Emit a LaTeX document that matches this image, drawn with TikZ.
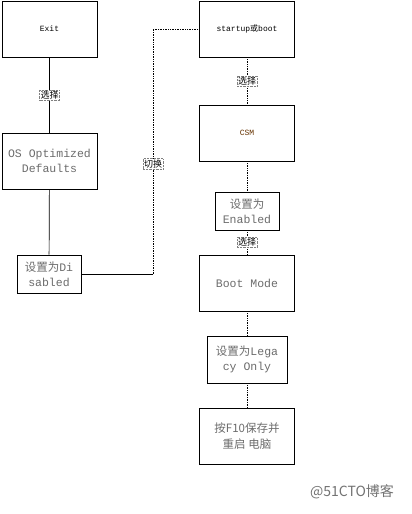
\documentclass[tikz,border=0pt]{standalone}
\usepackage{fontspec}
\setmainfont{Liberation Mono}
\newfontfamily\cjk{Noto Sans CJK SC}
\begin{document}
\begin{tikzpicture}[x=1pt,y=-1pt,line width=0.7pt,
    bigbox/.style={draw,minimum width=95pt,minimum height=56pt,inner sep=1pt,align=center,text=gray!85!black,font=\fontsize{11.5}{15}\selectfont},
    smallbox/.style={draw,inner sep=1pt,align=center,text=gray!85!black,font=\fontsize{11.5}{15}\selectfont},
    tag/.style={fill=white,draw=gray,densely dotted,line width=0.4pt,inner sep=1pt,text=black,font=\cjk\fontsize{9}{10}\selectfont},
    link/.style={densely dotted}]
    \useasboundingbox[fill=white] (0,0) rectangle (412,514);

    % Left column
    \node[bigbox,text=black,font=\fontsize{8}{10}\selectfont] (exit) at (49.5,29) {Exit};
    \node[bigbox] (osdef) at (49.5,161) {OS Optimized\\Defaults};
    \node[smallbox,minimum width=64pt,minimum height=38pt] (disabled) at (49,274) {{\cjk 设置为}Di\\sabled};

    % Right column
    \node[bigbox,text=black,font=\fontsize{8}{10}\selectfont] (startup) at (247,29) {startup{\cjk 或}boot};
    \node[bigbox,text=orange!40!black,font=\fontsize{8}{10}\selectfont] (csm) at (247,133) {CSM};
    \node[smallbox,minimum width=64pt,minimum height=38pt] (enabled) at (247,211) {{\cjk 设置为}\\Enabled};
    \node[bigbox] (bootmode) at (247,283) {Boot Mode};
    \node[smallbox,minimum width=80pt,minimum height=47pt] (legacy) at (247,359.5) {{\cjk 设置为}Lega\\cy Only};
    \node[bigbox,font=\cjk\fontsize{11.5}{16}\selectfont] (savekey) at (247,436) {按F10保存并\\重启 电脑};

    % Watermark
    \node[text=gray!90!black,font=\cjk\fontsize{14}{16}\selectfont] (mark) at (352,492) {@51CTO博客};

    % Connectors, left
    \draw (exit) -- node[tag] {选择} (osdef);
    \draw (osdef) -- (disabled);

    % Switch to the right column
    \coordinate (turn) at (153,274);
    \draw (disabled) -- (turn);
    \draw[link] (turn) -- node[tag,pos=0.45] {切换} (turn |- startup) -- (startup);

    % Connectors, right
    \draw[link] (startup) -- node[tag] {选择} (csm);
    \draw[link] (csm) -- (enabled);
    \draw[link] (enabled) -- node[tag] {选择} (bootmode);
    \draw[link] (bootmode) -- (legacy);
    \draw[link] (legacy) -- (savekey);
\end{tikzpicture}
\end{document}
